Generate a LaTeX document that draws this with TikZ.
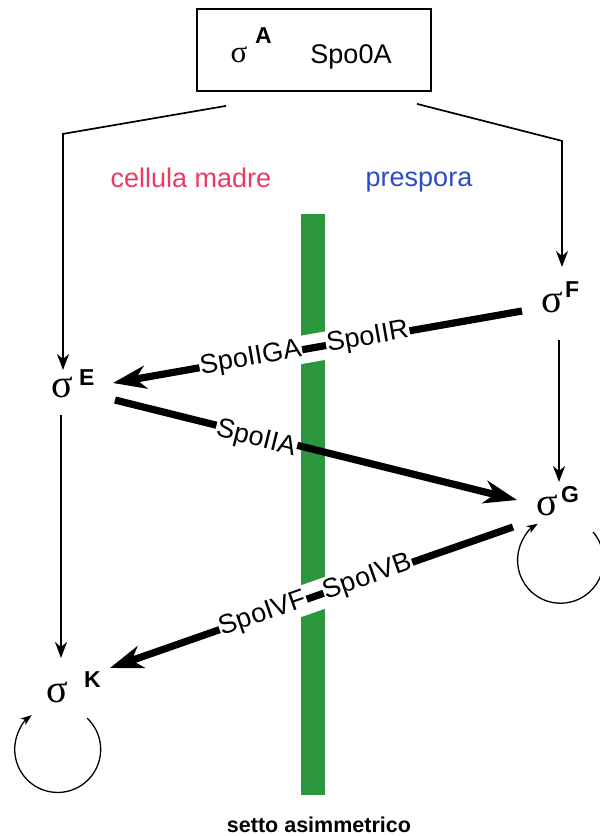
\documentclass[tikz,border=0pt]{standalone}
\usepackage{fontspec}
\setmainfont{Liberation Sans}
\newfontfamily\sigfont{Liberation Serif}
\usetikzlibrary{arrows.meta,calc}
\definecolor{bargreen}{RGB}{44,150,60}
\definecolor{madrered}{RGB}{235,60,95}
\definecolor{presblue}{RGB}{45,75,195}
\tikzset{
  sig/.style={inner sep=0pt, anchor=base, font=\sigfont\fontsize{40}{40}\selectfont},
  supl/.style={inner sep=0pt, anchor=base west, font=\bfseries\fontsize{23}{23}\selectfont},
  plain/.style={inner sep=0pt, anchor=base, font=\fontsize{27}{27}\selectfont},
  thinarrow/.style={line width=1.7pt, -{Stealth[length=16pt,width=12pt,inset=5pt]}},
  thickarrow/.style={line width=7.2pt, -{Stealth[length=33pt,width=23pt,inset=10pt]}},
  selfloop/.style={line width=1.3pt, -{Stealth[length=11pt,width=8pt,inset=3pt]}},
  lab/.style={font=\fontsize{27}{27}\selectfont, fill=white, inner sep=1pt, sloped},
  septgap/.style={white, line width=28pt},
}
\begin{document}
\begin{tikzpicture}[x=1pt,y=-1pt]
\useasboundingbox (0,0) rectangle (600,836);
\fill[white] (0,0) rectangle (600,836);

% septum
\node[fill=bargreen, inner sep=0pt, minimum width=24pt, minimum height=581pt] (bar) at (313,504.5) {};

% top box
\node[draw, line width=1.8pt, inner sep=0pt, minimum width=234pt, minimum height=82pt] (box) at (314,50) {};
\node[sig, font=\sigfont\fontsize{31}{31}\selectfont] (sA) at (239,62) {σ};
\node[supl] (supA) at (255,43) {A};
\node[plain] (spo) at (351,63) {Spo0A};

% compartments
\node[plain, text=madrered] (madre) at (191,187) {cellula madre};
\node[plain, text=presblue] (presp) at (419,186) {prespora};

% sigma factors
\node[sig] (sE) at (62.5,397) {σ};  \node[supl] (supE) at (79,385) {E};
\node[sig] (sF) at (552.5,312) {σ}; \node[supl] (supF) at (565,297) {F};
\node[sig] (sG) at (547.5,515) {σ}; \node[supl] (supG) at (561,502) {G};
\node[sig] (sK) at (57,702) {σ};    \node[supl] (supK) at (84,687) {K};

% label below septum
\node[inner sep=0pt, anchor=base, font=\bfseries\fontsize{21.5}{22}\selectfont] (setto) at (319,832) {setto asimmetrico};

% connector end points
\coordinate (bL) at ($(box.south)+(-88,14)$);
\coordinate (bR) at ($(box.south)+(103,12)$);
\coordinate (FEs) at ($(sF.base)+(-30.5,-1)$);
\coordinate (FEe) at ($(sE.base)+(50.5,-14)$);
\coordinate (EGs) at ($(sE.base)+(52.5,3)$);
\coordinate (EGe) at ($(sG.base)+(-30.5,-15)$);
\coordinate (GKs) at ($(sG.base)+(-34.5,12)$);
\coordinate (GKe) at ($(sK.base)+(53,-34)$);

% gaps in the septum
\begin{scope}
  \clip (bar.north west) rectangle (bar.south east);
  \draw[septgap] (FEs) -- (FEe);
  \draw[septgap, line width=30pt] (GKs) -- (GKe);
\end{scope}

% thin connectors
\draw[thinarrow] (bL) -- ++(-163,28) -- ($(sE.base)+(0.5,-27)$);
\draw[thinarrow] (bR) -- ++(145,37) -- ($(sF.base)+(9.5,-45)$);
\draw[thinarrow] ($(sF.base)+(6.5,28)$) -- ($(sG.base)+(11.5,-33)$);
\draw[thinarrow] ($(sE.base)+(-1.5,18)$) -- ($(sK.base)+(4,-44)$);

% thick connectors
\draw[thickarrow] (FEs) -- node[lab, pos=0.377] (lIIR) {SpoIIR} node[lab, pos=0.663] (lIIGA) {SpoIIGA} (FEe);
\draw[thickarrow] (EGs) -- node[lab, pos=0.353, yshift=-4pt] (lIIA) {SpoIIA} (EGe);
\draw[thickarrow] (GKs) -- node[lab, pos=0.36] (lIVB) {SpoIVB} node[lab, pos=0.62] (lIVF) {SpoIVF} (GKe);

% self loops
\draw[selfloop] ($(sG.base)+(45.5,17)$) arc[start angle=41, end angle=-238, radius=43pt];
\draw[selfloop] ($(sK.base)+(30,16)$) arc[start angle=47, end angle=-233, radius=43pt];
\end{tikzpicture}
\end{document}
